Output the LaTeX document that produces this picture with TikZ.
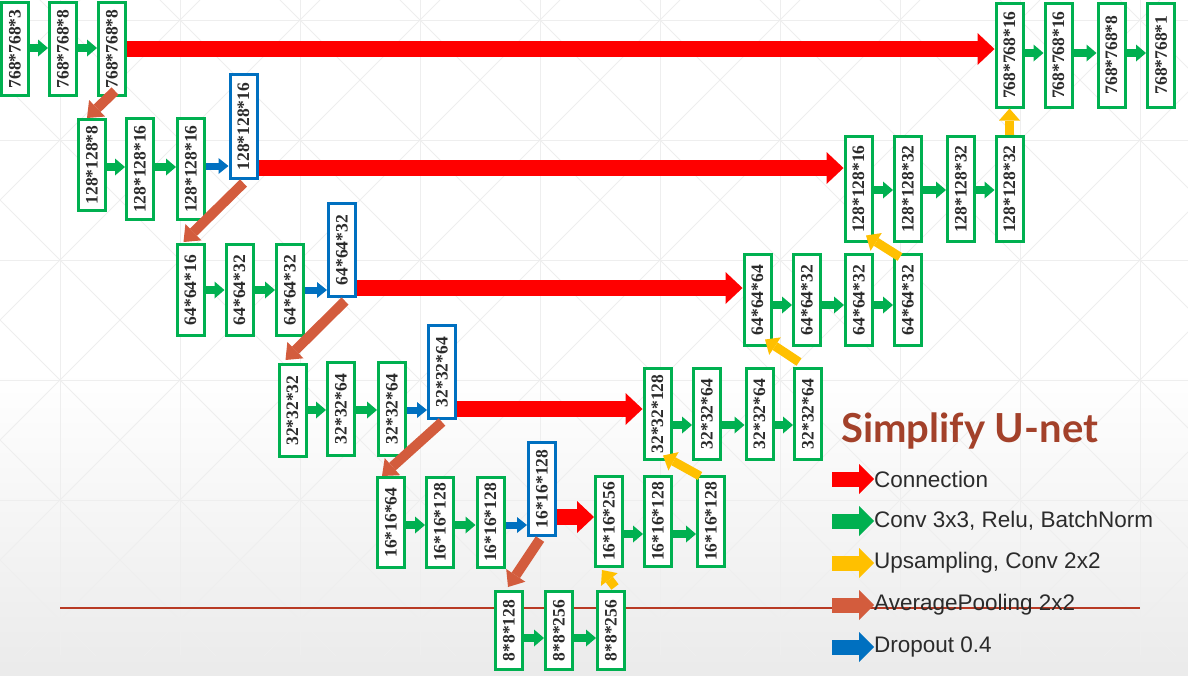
\documentclass[tikz,border=0pt]{standalone}
\usepackage{fontspec}
\setmainfont{Liberation Serif}
\newfontfamily\legfont{Liberation Sans}
\newfontfamily\titlefont{Lato}
\usepackage{graphicx}
\usetikzlibrary{arrows.meta,calc}
\definecolor{UGreen}{HTML}{00B050}
\definecolor{UBlue}{HTML}{0070C0}
\definecolor{URed}{HTML}{FF0000}
\definecolor{UYellow}{HTML}{FFC000}
\definecolor{UBrown}{HTML}{D35C3D}
\definecolor{UTitle}{HTML}{A3412A}
\definecolor{UGrid}{HTML}{EEEEEE}
\definecolor{ULine}{HTML}{B83A24}
\definecolor{UText}{HTML}{2B2B2B}
\newcommand{\vtext}[1]{\rotatebox{90}{#1}}
\tikzset{gbox/.style={draw=UGreen,line width=3pt,fill=white,minimum width=27pt,inner sep=0pt,text=UText,font=\bfseries\fontsize{17.5}{17.5}\selectfont}, bbox/.style={gbox,draw=UBlue},
conv/.style={draw=UGreen,line width=8pt,-{Triangle[length=10pt,width=17pt,line width=0pt]}},
drop/.style={draw=UBlue,line width=7pt,-{Triangle[length=10pt,width=16pt,line width=0pt]}},
conn/.style={draw=URed,line width=16pt,-{Triangle[length=17pt,width=32pt,line width=0pt]}},
upconv/.style={draw=UYellow,line width=9pt,-{Triangle[length=12pt,width=21pt,line width=0pt]}},
pool/.style={draw=UBrown,line width=10pt,-{Triangle[length=14pt,width=23pt,line width=0pt]}},
legarrow/.style={line width=15pt,-{Triangle[length=15pt,width=30pt,line width=0pt]}},
legtext/.style={anchor=west,inner sep=0pt,text=UText,font=\legfont\fontsize{22.5}{22.5}\selectfont}}

\begin{document}
\begin{tikzpicture}[x=1pt,y=-1pt]
\useasboundingbox (0,0) rectangle (1188,675);
% background
\fill[white] (0,0) rectangle (1188,675);
\shade[top color=white,bottom color=black!8] (0,370) rectangle (1188,675);
\begin{scope}[draw=UGrid,line width=1pt]
\clip (0,0) rectangle (1188,655);
\foreach \gx in {60,180,...,1140} \draw (\gx,0) -- (\gx,655);
\foreach \gy in {20,140,...,620} \draw (0,\gy) -- (1188,\gy);
\foreach \gc in {-680,-560,...,1160} \draw (\gc,0) -- ++(700,700);
\foreach \gc in {80,200,...,1880} \draw (\gc,0) -- ++(-700,700);
\end{scope}
\draw[ULine,line width=1.2pt] (60,608) -- (1140,608);

% encoder
\node[gbox,minimum height=93pt] (a1) at (15,49) {\vtext{768*768*3}};
\node[gbox,minimum height=93pt] (a2) at (63,49) {\vtext{768*768*8}};
\node[gbox,minimum height=93pt] (a3) at (112,49) {\vtext{768*768*8}};
\node[gbox,minimum height=91pt] (c1) at (92,165) {\vtext{128*128*8}};
\node[gbox,minimum height=101pt] (c2) at (140,169) {\vtext{128*128*16}};
\node[gbox,minimum height=101pt] (c3) at (191,169) {\vtext{128*128*16}};
\node[bbox,minimum height=104pt] (c4) at (243.5,126.5) {\vtext{128*128*16}};
\node[gbox,minimum height=91pt] (e1) at (190.5,290) {\vtext{64*64*16}};
\node[gbox,minimum height=91pt] (e2) at (239.5,290) {\vtext{64*64*32}};
\node[gbox,minimum height=91pt] (e3) at (290,290) {\vtext{64*64*32}};
\node[bbox,minimum height=93pt] (e4) at (342,250) {\vtext{64*64*32}};
\node[gbox,minimum height=92pt] (g1) at (292.5,410.5) {\vtext{32*32*32}};
\node[gbox,minimum height=93pt] (g2) at (341,409) {\vtext{32*32*64}};
\node[gbox,minimum height=93pt] (g3) at (392,409) {\vtext{32*32*64}};
\node[bbox,minimum height=93pt] (g4) at (442,372) {\vtext{32*32*64}};
\node[gbox,minimum height=90pt] (i1) at (391,522.5) {\vtext{16*16*64}};
\node[gbox,minimum height=90pt] (i2) at (440,522.5) {\vtext{16*16*128}};
\node[gbox,minimum height=90pt] (i3) at (490.5,522.5) {\vtext{16*16*128}};
\node[bbox,minimum height=93pt] (i4) at (542,489) {\vtext{16*16*128}};
% bottom
\node[gbox,minimum height=78pt] (k1) at (509,630.5) {\vtext{8*8*128}};
\node[gbox,minimum height=78pt] (k2) at (559,630.5) {\vtext{8*8*256}};
\node[gbox,minimum height=78pt] (k3) at (611,630.5) {\vtext{8*8*256}};
% decoder
\node[gbox,minimum height=90pt] (j1) at (609,521.5) {\vtext{16*16*256}};
\node[gbox,minimum height=90pt] (j2) at (658,521.5) {\vtext{16*16*128}};
\node[gbox,minimum height=90pt] (j3) at (711,521.5) {\vtext{16*16*128}};
\node[gbox,minimum height=91pt] (h1) at (657.5,414) {\vtext{32*32*128}};
\node[gbox,minimum height=91pt] (h2) at (707,414) {\vtext{32*32*64}};
\node[gbox,minimum height=91pt] (h3) at (759.5,414) {\vtext{32*32*64}};
\node[gbox,minimum height=91pt] (h4) at (808,414) {\vtext{32*32*64}};
\node[gbox,minimum height=91pt] (f1) at (757.5,300) {\vtext{64*64*64}};
\node[gbox,minimum height=91pt] (f2) at (807,300) {\vtext{64*64*32}};
\node[gbox,minimum height=91pt] (f3) at (859,300) {\vtext{64*64*32}};
\node[gbox,minimum height=91pt] (f4) at (908,300) {\vtext{64*64*32}};
\node[gbox,minimum height=105pt] (d1) at (858.5,189) {\vtext{128*128*16}};
\node[gbox,minimum height=105pt] (d2) at (908,189) {\vtext{128*128*32}};
\node[gbox,minimum height=105pt] (d3) at (961,189) {\vtext{128*128*32}};
\node[gbox,minimum height=105pt] (d4) at (1009.5,189) {\vtext{128*128*32}};
\node[gbox,minimum height=104pt] (b1) at (1009.5,55) {\vtext{768*768*16}};
\node[gbox,minimum height=104pt] (b2) at (1058.5,55) {\vtext{768*768*16}};
\node[gbox,minimum height=104pt] (b3) at (1111.5,55) {\vtext{768*768*8}};
\node[gbox,minimum height=104pt] (b4) at (1161,55) {\vtext{768*768*1}};

% conv arrows
\draw[conv] (a1.east |- 0,48) -- (a2.west |- 0,48);
\draw[conv] (a2.east |- 0,48) -- (a3.west |- 0,48);
\draw[conv] (c1.east |- 0,167) -- (c2.west |- 0,167);
\draw[conv] (c2.east |- 0,167) -- (c3.west |- 0,167);
\draw[drop] (c3.east |- 0,166) -- (c4.west |- 0,166);
\draw[conv] (e1.east |- 0,290) -- (e2.west |- 0,290);
\draw[conv] (e2.east |- 0,290) -- (e3.west |- 0,290);
\draw[drop] (e3.east |- 0,290) -- (e4.west |- 0,290);
\draw[conv] (g1.east |- 0,410) -- (g2.west |- 0,410);
\draw[conv] (g2.east |- 0,410) -- (g3.west |- 0,410);
\draw[drop] (g3.east |- 0,410) -- (g4.west |- 0,410);
\draw[conv] (i1.east |- 0,525) -- (i2.west |- 0,525);
\draw[conv] (i2.east |- 0,525) -- (i3.west |- 0,525);
\draw[drop] (i3.east |- 0,525) -- (i4.west |- 0,525);
\draw[conv] (k1.east |- 0,638) -- (k2.west |- 0,638);
\draw[conv] (k2.east |- 0,638) -- (k3.west |- 0,638);
\draw[conv] (j1.east |- 0,534) -- (j2.west |- 0,534);
\draw[conv] (j2.east |- 0,534) -- (j3.west |- 0,534);
\draw[conv] (h1.east |- 0,425) -- (h2.west |- 0,425);
\draw[conv] (h2.east |- 0,425) -- (h3.west |- 0,425);
\draw[conv] (h3.east |- 0,425) -- (h4.west |- 0,425);
\draw[conv] (f1.east |- 0,305) -- (f2.west |- 0,305);
\draw[conv] (f2.east |- 0,305) -- (f3.west |- 0,305);
\draw[conv] (f3.east |- 0,305) -- (f4.west |- 0,305);
\draw[conv] (d1.east |- 0,190) -- (d2.west |- 0,190);
\draw[conv] (d2.east |- 0,190) -- (d3.west |- 0,190);
\draw[conv] (d3.east |- 0,190) -- (d4.west |- 0,190);
\draw[conv] (b1.east |- 0,53) -- (b2.west |- 0,53);
\draw[conv] (b2.east |- 0,53) -- (b3.west |- 0,53);
\draw[conv] (b3.east |- 0,53) -- (b4.west |- 0,53);
% connections
\draw[conn] (a3.east |- 0,49) -- (b1.west |- 0,49);
\draw[conn] (c4.east |- 0,168) -- (d1.west |- 0,168);
\draw[conn] (e4.east |- 0,288) -- (f1.west |- 0,288);
\draw[conn] (g4.east |- 0,409) -- (h1.west |- 0,409);
\draw[conn] (i4.east |- 0,517) -- (j1.west |- 0,517);
% pooling
\draw[pool] ($(a3.south)+(3,-6)$) -- ($(c1.north)+(-5,0)$);
\draw[pool] ($(c4.south)+(0,3)$) -- ($(e1.north)+(-7,-1)$);
\draw[pool] ($(e4.south)+(3,3)$) -- ($(g1.north)+(-7,-3)$);
\draw[pool] ($(g4.south)+(0,2)$) -- ($(i1.north)+(-9,0)$);
\draw[pool] ($(i4.south)+(-2,2)$) -- ($(k1.north)+(-1,-3)$);
% upsampling
\draw[upconv] (d4.north) -- (b1.south);
\draw[upconv] ($(f4.north)+(-8,4)$) -- ($(d1.south)+(7.5,-7.5)$);
\draw[upconv] ($(h4.north)+(-9,-5)$) -- ($(f1.south)+(7.5,-7.5)$);
\draw[upconv] ($(j3.north)+(-11,1)$) -- ($(h1.south)+(5.5,-5.5)$);
\draw[upconv] ($(k3.north)+(4,-3)$) -- ($(j1.south)+(-7,2)$);

% legend
\node[anchor=base west,inner sep=0pt,text=UTitle,font=\titlefont\bfseries\fontsize{40}{40}\selectfont] (title) at (841,442) {Simplify U-net};
\node[legtext] (lg1) at (874,479) {Connection};
\node[legtext] (lg2) at (874,521) {Conv 3x3, Relu, BatchNorm};
\node[legtext] (lg3) at (874,563) {Upsampling, Conv 2x2};
\node[legtext] (lg4) at (874,605) {AveragePooling 2x2};
\node[legtext] (lg5) at (874,647) {Dropout 0.4};
\draw[legarrow,URed] ([xshift=-42pt]lg1.west) -- (lg1.west);
\draw[legarrow,UGreen] ([xshift=-42pt]lg2.west) -- (lg2.west);
\draw[legarrow,UYellow] ([xshift=-42pt]lg3.west) -- (lg3.west);
\draw[legarrow,UBrown] ([xshift=-42pt]lg4.west) -- (lg4.west);
\draw[legarrow,UBlue] ([xshift=-42pt]lg5.west) -- (lg5.west);
\end{tikzpicture}
\end{document}
